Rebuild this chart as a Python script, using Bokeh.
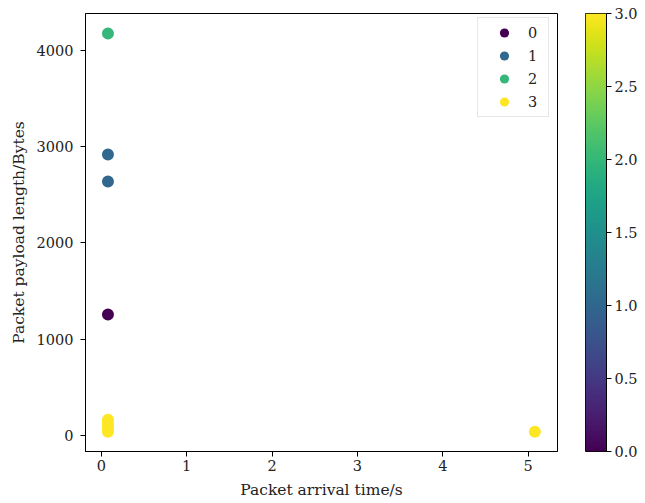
import numpy as np
from bokeh.plotting import figure
from bokeh.layouts import row
from bokeh.models import (LinearColorMapper, FixedTicker, PrintfTickFormatter,
                          Range1d, Legend, LegendItem)
from bokeh.palettes import Viridis256
from bokeh.embed import file_html
from bokeh.resources import INLINE

# ---- data ----
class_labels = ["0", "1", "2", "3"]
class_colors = ["#440154", "#31688e", "#35b779", "#fde725"]
arrival_0 = [0.078]
payload_0 = [1258]
arrival_1 = [0.078, 0.078]
payload_1 = [2919, 2639]
arrival_2 = [0.078]
payload_2 = [4176]
arrival_3 = [0.078, 0.078, 0.078, 0.078, 0.078, 5.078]
payload_3 = [40, 70, 100, 135, 165, 40]
x_ticks = [0, 1, 2, 3, 4, 5]
y_ticks = [0, 1000, 2000, 3000, 4000]
cbar_ticks = [0.0, 0.5, 1.0, 1.5, 2.0, 2.5, 3.0]
cbar_low, cbar_high = 0.0, 3.0

FONT = "DejaVu Serif"
TXT = "#222222"
TICK_FS = "14.5px"
LABEL_FS = "15.5px"

p = figure(width=568, height=503, output_backend="svg", toolbar_location=None,
           x_range=Range1d(-0.185, 5.343), y_range=Range1d(-166, 4384),
           min_border_left=85, min_border_top=13, min_border_bottom=52,
           min_border_right=11)
p.grid.visible = False
p.outline_line_color = "black"
p.outline_line_width = 1
p.background_fill_color = "white"
p.border_fill_color = "white"

for ax in (p.xaxis[0], p.yaxis[0]):
    ax.major_label_text_font = FONT
    ax.major_label_text_font_size = TICK_FS
    ax.major_label_text_color = TXT
    ax.axis_label_text_font = FONT
    ax.axis_label_text_font_size = LABEL_FS
    ax.axis_label_text_font_style = "normal"
    ax.axis_label_text_color = TXT
    ax.major_tick_in = 0
    ax.major_tick_out = 5
    ax.minor_tick_line_color = None
    ax.axis_line_color = "black"
    ax.major_tick_line_color = "black"

p.xaxis.ticker = FixedTicker(ticks=x_ticks)
p.yaxis.ticker = FixedTicker(ticks=y_ticks)
p.xaxis.axis_label = "Packet arrival time/s"
p.yaxis.axis_label = "Packet payload length/Bytes"
p.xaxis.major_label_standoff = 3
p.yaxis.major_label_standoff = 7
p.xaxis.axis_label_standoff = 7
p.yaxis.axis_label_standoff = 6

xs = [arrival_0, arrival_1, arrival_2, arrival_3]
ys = [payload_0, payload_1, payload_2, payload_3]
items = []
for lab, col, x, y in zip(class_labels, class_colors, xs, ys):
    r = p.scatter(x=x, y=y, size=12, marker="circle", fill_color=col, line_color=None)
    items.append(LegendItem(label=lab, renderers=[r]))

legend = Legend(items=items, location=(392, 334), margin=0, padding=3,
                glyph_width=46, glyph_height=23, label_width=17, label_height=23,
                label_standoff=1, spacing=0,
                label_text_font=FONT, label_text_font_size=TICK_FS,
                label_text_color=TXT,
                border_line_color="#d0d0d0", border_line_width=1,
                background_fill_color="white", background_fill_alpha=0.8)
p.add_layout(legend)

# ---- colour bar as its own narrow figure ----
mapper = LinearColorMapper(palette=Viridis256, low=cbar_low, high=cbar_high)
c = figure(width=77, height=503, output_backend="svg", toolbar_location=None,
           x_range=Range1d(0, 1), y_range=Range1d(cbar_low, cbar_high),
           x_axis_location=None, y_axis_location="right",
           min_border_left=17, min_border_right=39, min_border_top=13,
           min_border_bottom=52)
c.grid.visible = False
c.outline_line_color = "black"
c.outline_line_width = 1
c.border_fill_color = "white"
grad = np.linspace(cbar_low, cbar_high, 256).reshape(256, 1)
c.image(image=[grad], x=0, y=cbar_low, dw=1, dh=cbar_high - cbar_low,
        color_mapper=mapper)
cy = c.yaxis[0]
cy.ticker = FixedTicker(ticks=cbar_ticks)
cy.formatter = PrintfTickFormatter(format="%.1f")
cy.major_label_text_font = FONT
cy.major_label_text_font_size = TICK_FS
cy.major_label_text_color = TXT
cy.major_tick_in = 0
cy.major_tick_out = 5
cy.minor_tick_line_color = None
cy.axis_line_color = "black"
cy.major_tick_line_color = "black"
cy.major_label_standoff = 3

layout = row(p, c, spacing=0)
open("out.html", "w").write(file_html(layout, INLINE))
